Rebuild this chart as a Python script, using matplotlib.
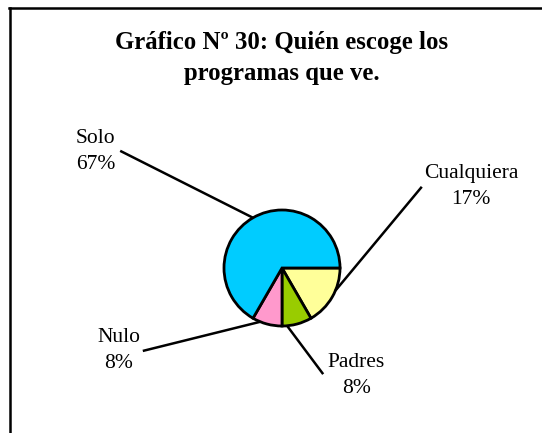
import numpy as np
import matplotlib
matplotlib.use('Agg')
import matplotlib.pyplot as plt

# datos del gráfico
categorias = ['Cualquiera', 'Padres', 'Nulo', 'Solo']
valores = [2, 1, 1, 8]
colores = ['#FFFF99', '#99CC00', '#FF99CC', '#00CCFF']
titulo = 'Gráfico Nº 30: Quién escoge los\nprogramas que ve.'

# donde toca la línea guía en cada porción (grados) y posición de la etiqueta
ang_guia = [-23, -85, -112, 120]
fin_guia = [(2.41, 1.40), (0.71, -1.83), (-2.40, -1.43), (-2.79, 2.02)]
pos_texto = [(3.26, 1.40), (1.28, -1.85), (-2.81, -1.43), (-3.21, 2.0)]

W, H = 542, 433
cx, cy, r = 282, 268, 58  # centro y radio en pixeles

plt.rcParams['font.family'] = ['Liberation Serif', 'DejaVu Serif']

fig = plt.figure(figsize=(W / 100, H / 100), dpi=100)
ax = fig.add_axes([0, 0, 1, 1])

total = sum(valores)
ax.pie(valores, colors=colores, startangle=0, counterclock=False, radius=1,
       wedgeprops=dict(edgecolor='black', linewidth=2))
ax.set_aspect('auto')
ax.set_xlim(-cx / r, (W - cx) / r)
ax.set_ylim(-(H - cy) / r, cy / r)
ax.axis('off')

for i, cat in enumerate(categorias):
    a = np.radians(ang_guia[i])
    x0, y0 = np.cos(a), np.sin(a)
    x1, y1 = fin_guia[i]
    ax.plot([x0, x1], [y0, y1], color='black', lw=1.8, solid_capstyle='butt')
    pct = round(valores[i] / total * 100)
    tx, ty = pos_texto[i]
    ax.text(tx, ty, '%s\n%d%%' % (cat, pct), ha='center', va='center',
            fontsize=15.5, linespacing=1.5)

fig.text(cx / W, 1 - 58 / H, titulo, ha='center', va='center',
         fontsize=17.8, fontweight='bold', linespacing=1.4)

# marco (solo se ven arriba e izquierda)
fig.add_artist(plt.Line2D([9 / W, 1], [1 - 8 / H, 1 - 8 / H], color='black', lw=1.8))
fig.add_artist(plt.Line2D([10 / W, 10 / W], [0, 1 - 8 / H], color='black', lw=1.8))

fig.savefig('out.png', dpi=100)
